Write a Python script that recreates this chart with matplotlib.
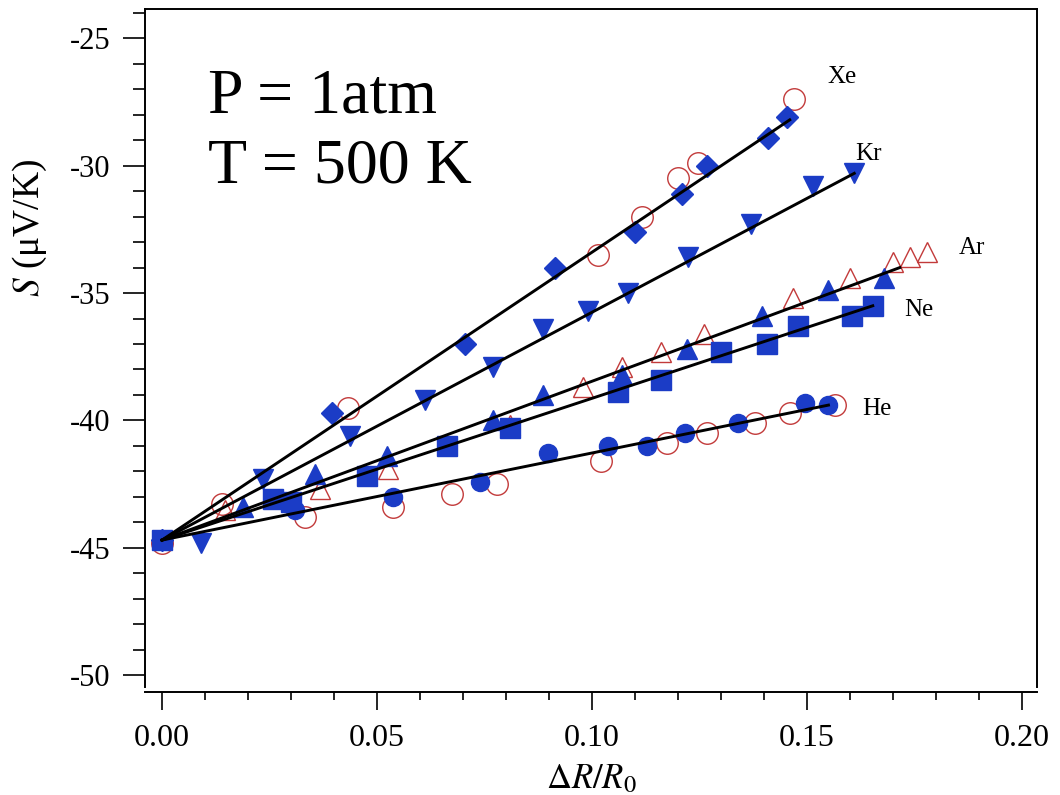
import matplotlib.pyplot as plt
from matplotlib.ticker import MultipleLocator, FormatStrFormatter

plt.rcParams["font.family"] = ["Liberation Serif", "DejaVu Serif"]
plt.rcParams["mathtext.fontset"] = "stix"
plt.rcParams["axes.unicode_minus"] = False

BLUE = "#1b3cc6"
RED = "#c23a3a"

# --- data (dR/R0, S in uV/K) ---
xe_x = [0.0, 0.0395, 0.0705, 0.0914, 0.110, 0.121, 0.1267, 0.141, 0.1453]
xe_y = [-44.7, -39.7, -37.0, -34.0, -32.6, -31.1, -30.0, -28.9, -28.1]
xe_open_x = [0.014, 0.0433, 0.1014, 0.1116, 0.120, 0.1247, 0.147]
xe_open_y = [-43.3, -39.5, -33.5, -32.0, -30.5, -29.9, -27.4]

kr_x = [0.009, 0.0235, 0.0437, 0.0612, 0.077, 0.0886, 0.099, 0.1084, 0.1223, 0.137, 0.1514, 0.161]
kr_y = [-44.8, -42.3, -40.6, -39.2, -37.9, -36.4, -35.7, -35.0, -33.6, -32.3, -30.8, -30.3]

ar_x = [0.0188, 0.0356, 0.0523, 0.077, 0.0886, 0.107, 0.122, 0.1395, 0.155, 0.168]
ar_y = [-43.4, -42.1, -41.4, -40.0, -39.0, -38.2, -37.2, -35.9, -34.9, -34.4]
ar_open_x = [0.0147, 0.0367, 0.0526, 0.081, 0.098, 0.107, 0.116, 0.126, 0.1468, 0.160, 0.170, 0.174, 0.178]
ar_open_y = [-43.5, -42.7, -41.9, -40.2, -38.7, -37.9, -37.3, -36.6, -35.2, -34.4, -33.8, -33.6, -33.4]

ne_x = [0.0, 0.0258, 0.030, 0.0477, 0.0663, 0.081, 0.106, 0.116, 0.130, 0.1407, 0.148, 0.1605, 0.1653]
ne_y = [-44.7, -43.1, -43.2, -42.2, -41.0, -40.3, -38.9, -38.4, -37.3, -37.0, -36.3, -35.9, -35.5]

he_x = [0.031, 0.0537, 0.074, 0.0898, 0.1037, 0.1128, 0.1216, 0.134, 0.1495, 0.155]
he_y = [-43.5, -43.0, -42.4, -41.3, -41.0, -41.0, -40.5, -40.1, -39.3, -39.4]
he_open_x = [0.0, 0.0333, 0.0537, 0.0674, 0.078, 0.102, 0.1174, 0.1267, 0.138, 0.146, 0.1565]
he_open_y = [-44.8, -43.8, -43.4, -42.9, -42.5, -41.6, -40.9, -40.5, -40.1, -39.7, -39.4]

# linear fits: common start, end point per gas
gases = ["Xe", "Kr", "Ar", "Ne", "He"]
fit_x0, fit_y0 = 0.0, -44.7
fit_x1 = [0.146, 0.161, 0.1716, 0.1653, 0.155]
fit_y1 = [-28.2, -30.3, -34.0, -35.5, -39.4]
# label offsets from the fit end (points)
label_dx = [38, 10, 52, 33, 35]
label_dy = [31, 14, 14, -3, -3]

fig = plt.figure(figsize=(10.6, 7.95), dpi=100)
ax = fig.add_axes([0.1368, 0.1358, 0.8415, 0.8528])

# open red markers underneath
ax.plot(xe_open_x, xe_open_y, "o", ms=15.5, mfc="none", mec=RED, mew=1.0, zorder=2)
ax.plot(he_open_x, he_open_y, "o", ms=15.5, mfc="none", mec=RED, mew=1.0, zorder=2)
ax.plot(ar_open_x, ar_open_y, "^", ms=15, mfc="none", mec=RED, mew=1.0, zorder=2)

# filled blue markers
ax.plot(xe_x, xe_y, "D", ms=11, color=BLUE, mec=BLUE, zorder=3)
ax.plot(kr_x, kr_y, "v", ms=15, color=BLUE, mec=BLUE, zorder=3)
ax.plot(ar_x, ar_y, "^", ms=14, color=BLUE, mec=BLUE, zorder=3)
ax.plot(ne_x, ne_y, "s", ms=14, color=BLUE, mec=BLUE, zorder=3)
ax.plot(he_x, he_y, "o", ms=13, color=BLUE, mec=BLUE, zorder=3)

# fit lines drawn on top
for name, x1, y1, dx, dy in zip(gases, fit_x1, fit_y1, label_dx, label_dy):
    ax.plot([fit_x0, x1], [fit_y0, y1], color="black", lw=2.1, zorder=4)
    ax.annotate(name, (x1, y1), xytext=(dx, dy), textcoords="offset points",
                ha="center", va="center", fontsize=18)

ax.set_xlim(-0.00395, 0.2035)
ax.set_ylim(-50.47, -23.85)

ax.xaxis.set_major_locator(MultipleLocator(0.05))
ax.xaxis.set_minor_locator(MultipleLocator(0.01))
ax.xaxis.set_major_formatter(FormatStrFormatter("%.2f"))
ax.yaxis.set_major_locator(MultipleLocator(5))
ax.yaxis.set_minor_locator(MultipleLocator(1))
ax.yaxis.set_major_formatter(FormatStrFormatter("%d"))

ax.tick_params(axis="y", which="major", direction="out", length=16, width=1.2,
               labelsize=22, pad=9, right=False)
ax.tick_params(axis="y", which="minor", direction="out", length=8.5, width=1.2, right=False)
ax.tick_params(axis="x", which="major", direction="out", length=13, width=1.2,
               labelsize=23, pad=10, top=False)
ax.tick_params(axis="x", which="minor", direction="out", length=6, width=1.2, top=False)

for side in ["left", "right", "top", "bottom"]:
    ax.spines[side].set_linewidth(1.4)
ax.spines["bottom"].set_position(("outward", 3.6))

ax.set_xlabel(r"$\Delta R/R_0$", fontsize=25, labelpad=7)
ax.set_ylabel(r"$S$ (μV/K)", fontsize=27)
ax.yaxis.set_label_coords(-0.108, 0.677)

fig.text(0.196, 0.858, "P = 1atm", fontsize=46, va="baseline")
fig.text(0.196, 0.771, "T = 500 K", fontsize=46, va="baseline")

fig.savefig("out.png", dpi=100)
